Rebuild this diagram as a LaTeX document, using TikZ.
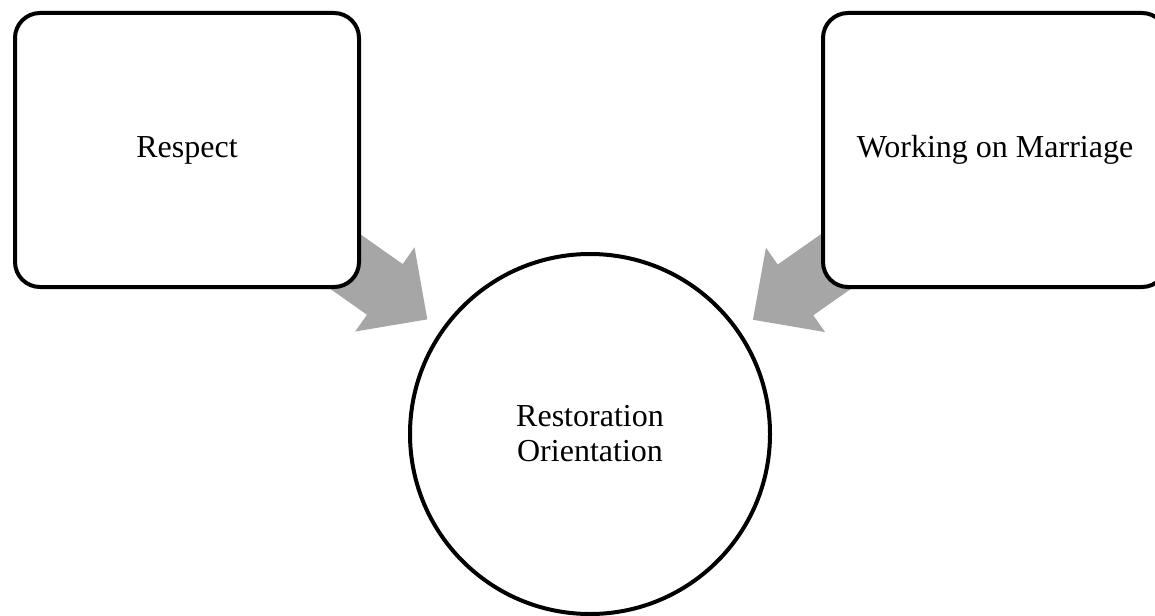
\documentclass[tikz,border=0pt]{standalone}
\usepackage{fontspec}
\setmainfont{Liberation Serif}
\usetikzlibrary{calc,backgrounds}
\definecolor{arrowgray}{RGB}{166,166,166}
\tikzset{
  box/.style={draw=black, fill=white, line width=4pt, rounded corners=25pt,
    minimum width=344pt, minimum height=274pt, inner sep=0pt, align=center,
    font=\fontsize{32}{35}\selectfont},
  bigcircle/.style={draw=black, fill=white, circle, line width=4pt,
    minimum size=360pt, inner sep=0pt, align=center,
    font=\fontsize{32}{35}\selectfont},
  blockarrow/.style={fill=arrowgray, draw=none}
}
% block arrow from node #1 (tail, hidden under it) towards node #2
\newcommand{\myblockarrow}[2]{%
  \coordinate (T) at ($(#2.center)!199pt!(#1.center)$);
  \coordinate (H) at ($(T)!52pt!(#1.center)$);
  \fill[blockarrow]
    ($(#1.center)!31pt!90:(#2.center)$) --
    ($(H)!31pt!-90:(#1.center)$) --
    ($(H)!51.5pt!-90:(#1.center)$) --
    (T) --
    ($(H)!51.5pt!90:(#1.center)$) --
    ($(H)!31pt!90:(#1.center)$) --
    ($(#1.center)!31pt!-90:(#2.center)$) -- cycle;
}
\begin{document}
\begin{tikzpicture}[x=1pt,y=-1pt]
\useasboundingbox (0,0) rectangle (1155,615);
\node[box] (resp) at (187,150) {Respect};
\node[box] (work) at (995,150) {Working on Marriage};
\node[bigcircle] (circ) at (590,434) {Restoration\\Orientation};
\begin{pgfonlayer}{background}
\myblockarrow{resp}{circ}
\myblockarrow{work}{circ}
\end{pgfonlayer}
\end{tikzpicture}
\end{document}
